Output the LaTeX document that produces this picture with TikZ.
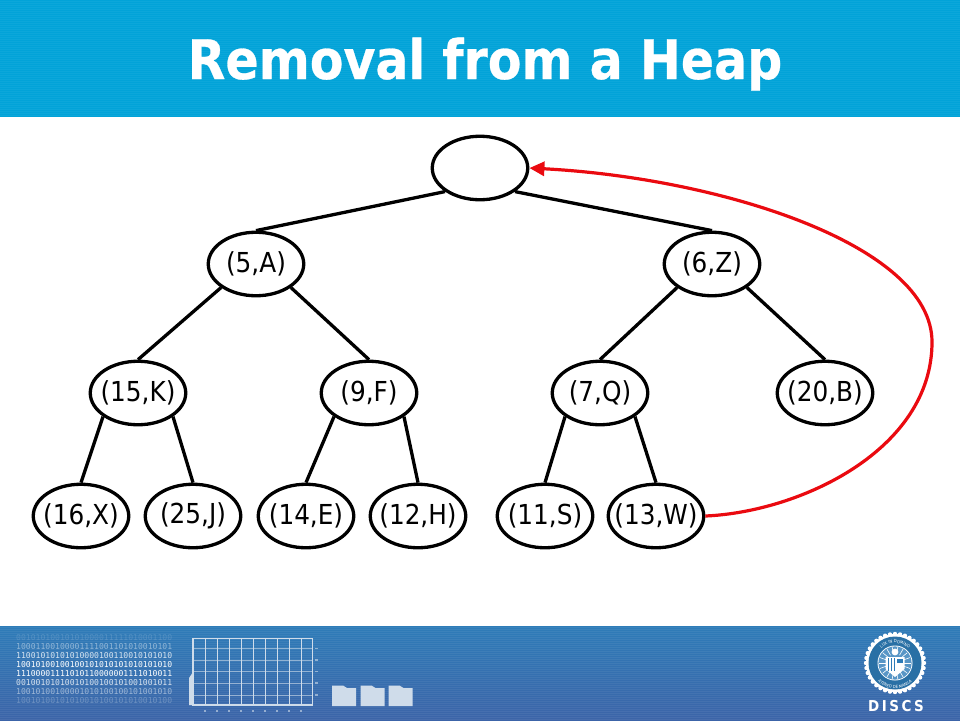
\documentclass[tikz,border=0pt]{standalone}
\usepackage{fontspec}
\setmainfont{DejaVu Sans Condensed}
\newfontfamily\binfont{DejaVu Sans Mono}
\newfontfamily\titlefont[BoldFeatures={FakeBold=0.5}]{DejaVu Sans Condensed}
\usetikzlibrary{shapes.geometric,arrows.meta,decorations.text}
\definecolor{headblue}{HTML}{02A3D8}
\definecolor{headlite}{HTML}{1AADDD}
\definecolor{foottop}{HTML}{2E7CB8}
\definecolor{footbot}{HTML}{3C64A8}
\definecolor{footpale}{HTML}{CFDCEA}
\definecolor{arrowred}{HTML}{EA0A10}
\newcommand{\hl}[1]{\makebox[0pt]{#1}}
\tikzset{
  heapnode/.style={draw=black,line width=3.3pt,fill=white,ellipse,minimum width=95.5pt,minimum height=63.5pt,inner sep=0pt,font=\fontsize{27.5}{30}\selectfont},
  heapedge/.style={draw=black,line width=3.3pt},
  moveedge/.style={draw=arrowred,line width=3.2pt,-{Stealth[length=15pt,width=14pt,inset=0pt]}},
  titletext/.style={text=white,font=\titlefont\fontsize{54.5}{60}\selectfont\bfseries},
  bits/.style={anchor=west,text=white,inner sep=0pt,font=\binfont\fontsize{8.1}{9}\selectfont},
  gridline/.style={draw=footpale,line width=1pt},
  folder/.style={fill=footpale,draw=none},
  sealtext/.style={decorate,decoration={text along path,text color=white,text align=center,text={|\fontsize{4.2}{5}\selectfont|#1}}}
}
\begin{document}
\begin{tikzpicture}[x=1pt,y=-1pt]
\useasboundingbox (0,0) rectangle (960,720);
\fill[white] (0,0) rectangle (960,720);
% header band
\fill[headblue] (0,0) rectangle (960,117);
\foreach \yy in {1,3,...,115} \fill[headlite,opacity=.45] (0,\yy) rectangle (960,\yy+1);
\node[titletext] (title) at (485,64) {Removal from a Heap};
% footer band
\shade[top color=foottop,bottom color=footbot] (0,626) rectangle (960,720);
\foreach \yy in {627,629,...,719} \fill[white,opacity=.06] (0,\yy) rectangle (960,\yy+1);
% binary block
\node[bits,opacity=.15] (b1) at (16,638) {00101010010101000011111010001100};
\node[bits,opacity=.45] (b2) at (16,647) {10001100100001111001101010010101};
\node[bits,opacity=.8] (b3) at (16,656) {11001010101010000100110010101010};
\node[bits] (b4) at (16,665) {10010100100100101010101010101010};
\node[bits] (b5) at (16,674) {11100001111010110000001111010011};
\node[bits,opacity=.8] (b6) at (16,683) {00100101010010100100101001001011};
\node[bits,opacity=.5] (b7) at (16,692) {10010100100001010100100101001010};
\node[bits,opacity=.25] (b8) at (16,701) {10010100101010010100101010010100};
% chart
\fill[footpale] (189,705) -- (189,678) -- (193,672) -- (193,705) -- cycle;
\draw[footpale,line width=1.6pt] (193,638.5) rectangle (312.5,705);
\foreach \xx in {205,217,229,241,253,265,277,289,301} \draw[gridline] (\xx,638.5) -- (\xx,705);
\foreach \yy in {648.5,660,671.5,683,695} \draw[gridline,opacity=.6] (193,\yy) -- (312.5,\yy);
\foreach \yy in {648.5,660,671.5,683,695} \fill[footpale,opacity=.6] (315,\yy-.6) rectangle (318,\yy+.6);
\foreach \xx in {205,217,229,241,253,265,277,289,301} \fill[footpale,opacity=.6] (\xx-.7,710) rectangle (\xx+.7,712);
% folders
\foreach \xx in {332,360.5,388.5}
  \fill[folder] (\xx,706) -- (\xx,685.5) -- (\xx+11,685.5) -- (\xx+15,688) -- (\xx+24,688) -- (\xx+24,706) -- cycle;
% seal
\begin{scope}[shift={(895,663)},y=1pt]
\foreach \aa in {0,10,...,350} \fill[white] (\aa:29) circle (2.2);
\fill[white] (0,0) circle (29);
\fill[foottop!90!black] (0,0) circle (26.5);
\fill[white] (0,0) circle (17.5);
\fill[foottop!80!white] (0,0) circle (16.6);
\foreach \aa in {0,20,...,340} \draw[white,line width=.6pt] (\aa:9) -- (\aa:16);
\fill[white] (-9.5,6) -- (9.5,6) -- (9.5,-6) -- (0,-14) -- (-9.5,-6) -- cycle;
\foreach \xx in {-7,-4,-1} \draw[foottop,line width=1pt] (\xx,5) -- (\xx,-8);
\fill[foottop] (2,4.5) rectangle (8,0);
\fill[white] (0,11) circle (3.4);
\path[sealtext=LUX IN DOMINO] (157:20) arc[start angle=157,end angle=23,radius=20];
\path[sealtext=ATENEO DE MANILA] (205:25.5) arc[start angle=205,end angle=335,radius=25.5];
\end{scope}
\node[text=white,inner sep=0pt,font=\fontsize{15}{16}\selectfont\bfseries] (discs) at (896,706) {D\,I\,S\,C\,S};
% tree nodes
\node[heapnode] (root) at (480,168) {};
\node[heapnode] (a) at (256,264) {\hl{(5,A)}};
\node[heapnode] (z) at (712,264) {\hl{(6,Z)}};
\node[heapnode] (k) at (138,393) {\hl{(15,K)}};
\node[heapnode] (f) at (369,393) {\hl{(9,F)}};
\node[heapnode] (q) at (600,393) {\hl{(7,Q)}};
\node[heapnode] (b) at (825,393) {\hl{(20,B)}};
\node[heapnode] (x) at (81,516) {\hl{(16,X)}};
\node[heapnode] (j) at (193,516) {\hl{(25,J)}};
\node[heapnode] (e) at (306,516) {\hl{(14,E)}};
\node[heapnode] (h) at (418,516) {\hl{(12,H)}};
\node[heapnode] (s) at (545,516) {\hl{(11,S)}};
\node[heapnode] (w) at (656,516) {\hl{(13,W)}};
% edges
\draw[heapedge] (root.214) -- (a.north);
\draw[heapedge] (root.326) -- (z.north);
\draw[heapedge] (a.214) -- (k.north);
\draw[heapedge] (a.326) -- (f.north);
\draw[heapedge] (z.214) -- (q.north);
\draw[heapedge] (z.326) -- (b.north);
\draw[heapedge] (k.214) -- (x.north);
\draw[heapedge] (k.326) -- (j.north);
\draw[heapedge] (f.214) -- (e.north);
\draw[heapedge] (f.326) -- (h.north);
\draw[heapedge] (q.214) -- (s.north);
\draw[heapedge] (q.326) -- (w.north);
% moved entry
\coordinate (bulge) at (932,342);
\draw[moveedge] (w.east) ..controls (800,512) and (932,450) .. (bulge) ..controls (932,245) and (720,178) .. (root.east);
\end{tikzpicture}
\end{document}
